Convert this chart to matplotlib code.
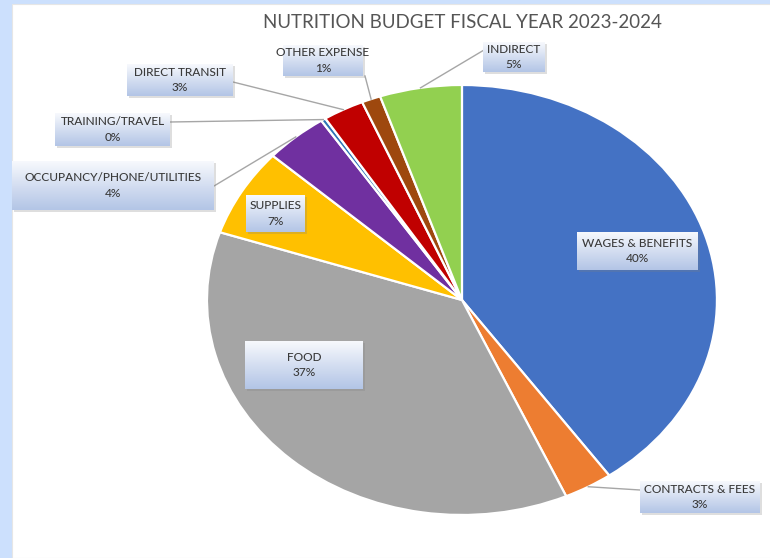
import matplotlib.pyplot as plt
import numpy as np
from matplotlib.colors import LinearSegmentedColormap
from matplotlib.patches import Rectangle

# budget shares in percent
categories = ['WAGES & BENEFITS', 'CONTRACTS & FEES', 'FOOD', 'SUPPLIES',
              'OCCUPANCY/PHONE/UTILITIES', 'TRAINING/TRAVEL', 'DIRECT TRANSIT',
              'OTHER EXPENSE', 'INDIRECT']
values = [40.2, 3.1, 36.8, 6.6, 4.0, 0.3, 2.6, 1.2, 5.2]
colors = ['#4472C4', '#ED7D31', '#A5A5A5', '#FFC000', '#7030A0',
          '#2E75B6', '#C00000', '#9E480E', '#92D050']

# label boxes in pixels (left, top, right, bottom) and leader line start (None = inside)
boxes = [(577, 232, 698, 270), (640, 481, 760, 513), (245, 341, 363, 389),
         (246, 195, 305, 232), (12, 161, 214, 210), (55, 113, 170, 146),
         (127, 64, 233, 96), (283, 45, 363, 76), (483, 42, 545, 72)]
anchors = [None, (640, 490), None, None, (214, 186), (170, 122),
           (233, 82), (365, 76), (484, 50)]

fig = plt.figure(figsize=(7.7, 5.58), dpi=100)
fig.patch.set_facecolor('#cce0fd')
fig.patches.append(Rectangle((12 / 770, 0), 1, 1 - 4 / 558, transform=fig.transFigure,
                             fc='white', ec='#e6e6e6', lw=0.8, zorder=-5))

ax = fig.add_axes([0.2688, 0.0771, 0.6623, 0.7706])
wedges, _ = ax.pie(values, colors=colors, startangle=90, counterclock=False,
                   wedgeprops=dict(edgecolor='white', linewidth=1.6))
ax.set_aspect('auto')
ax.set_xlim(-1, 1)
ax.set_ylim(-1, 1)
ax.axis('off')

fig.text(0.6, 1 - 22 / 558, 'NUTRITION BUDGET FISCAL YEAR 2023-2024', ha='center', va='center',
         fontsize=13.5, color='#555555', family=['Lato', 'DejaVu Sans'])

# overlay axes in pixel coordinates for the label boxes
lab = fig.add_axes([0, 0, 1, 1], zorder=5)
lab.patch.set_alpha(0)
cmap = LinearSegmentedColormap.from_list('box', ['#f7f9fd', '#d4def1', '#b3c5e6'])
grad = np.linspace(0, 1, 64).reshape(-1, 1)

for name, v, w, (l, t, r, b), anc in zip(categories, values, wedges, boxes, anchors):
    if anc is not None:
        mid = np.deg2rad((w.theta1 + w.theta2) / 2)
        disp = ax.transData.transform((np.cos(mid), np.sin(mid)))
        fx, fy = disp[0], 558 - disp[1]
        lab.plot([anc[0], fx], [anc[1], fy], color='#a6a6a6', lw=1, zorder=1)
    lab.add_patch(Rectangle((l + 2, t + 2), r - l, b - t, fc='#7f7f7f', alpha=0.25, ec='none', zorder=2))
    lab.imshow(grad, extent=(l, r, b, t), aspect='auto', cmap=cmap, zorder=3, interpolation='bilinear')
    lab.text((l + r) / 2, (t + b) / 2, f'{name}\n{v:.0f}%', ha='center', va='center',
             fontsize=8.6, color='#3a3a3a', linespacing=1.45, zorder=4, fontweight='medium',
             family=['Lato', 'DejaVu Sans'])

lab.set_xlim(0, 770)
lab.set_ylim(558, 0)
lab.axis('off')

fig.savefig('out.png', dpi=100)
